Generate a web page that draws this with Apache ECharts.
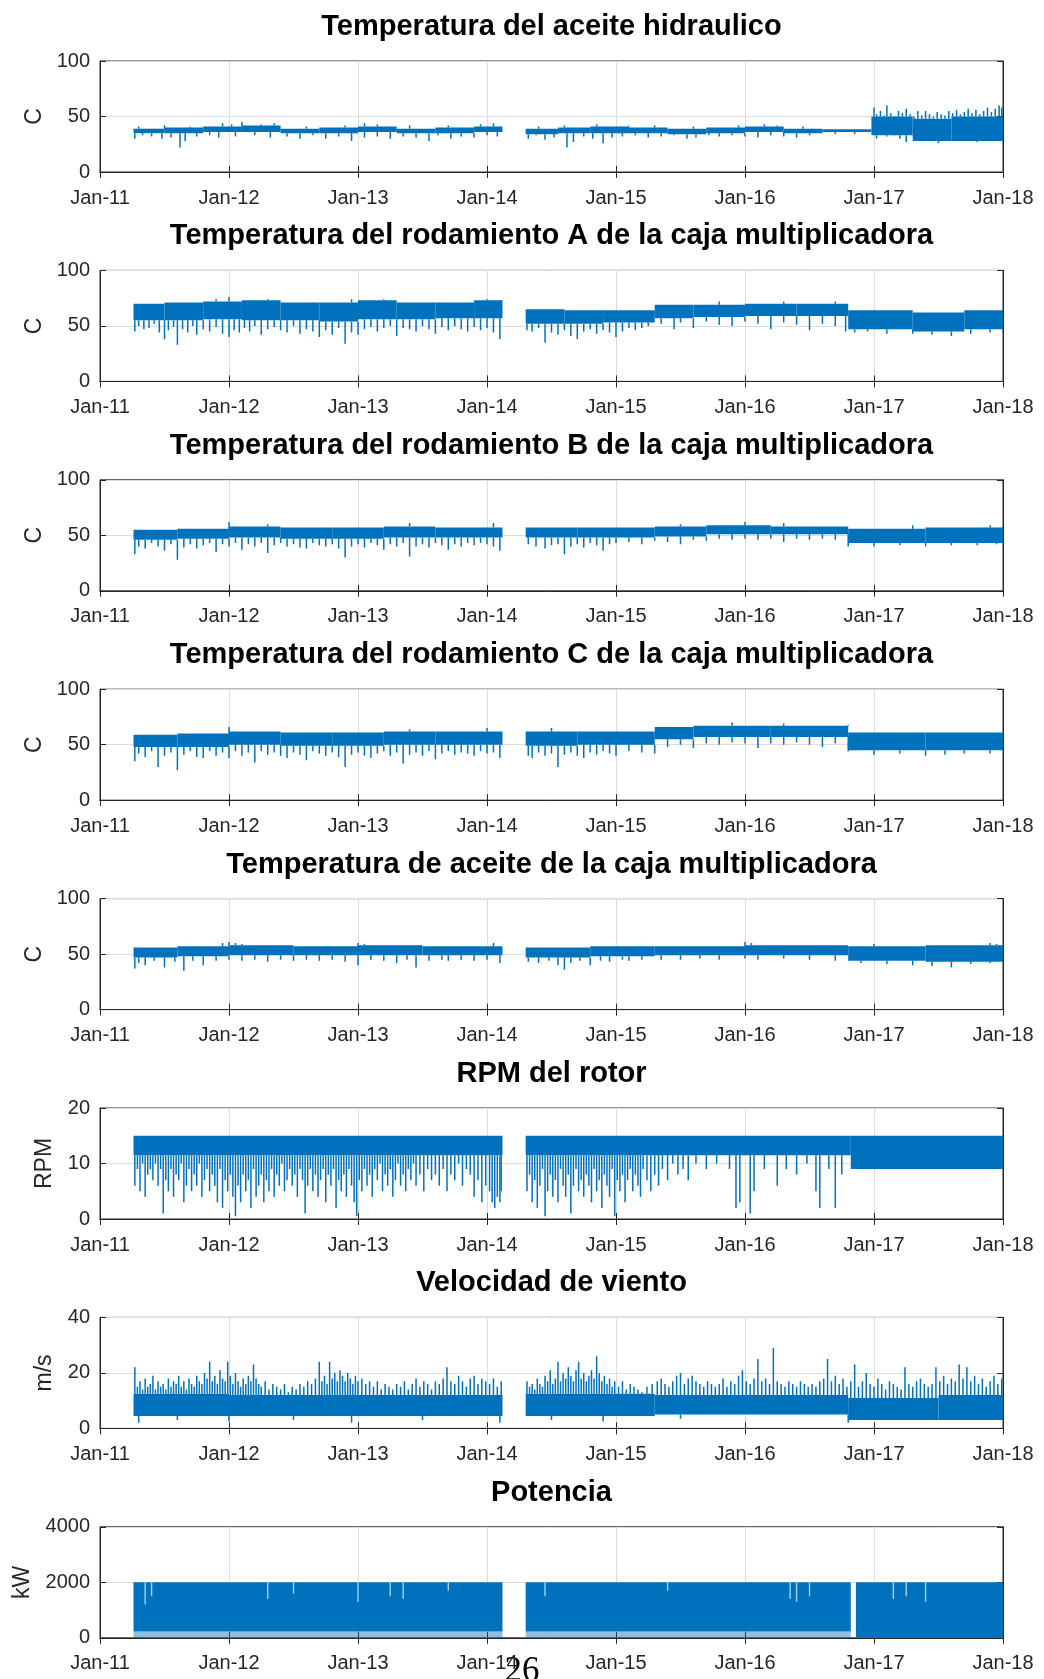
<!DOCTYPE html>
<html><head><meta charset="utf-8">
<script src="https://cdn.jsdelivr.net/npm/echarts@6/dist/echarts.min.js"></script>
<style>html,body{margin:0;padding:0;background:#fff}#c{width:1044px;height:1679px}</style>
</head><body><div id="c"></div>
<script>
// ---- tick labels / axis ----
const xTickYears = [2011, 2012, 2013, 2014, 2015, 2016, 2017, 2018];
const xTickLabels = ['Jan-11', 'Jan-12', 'Jan-13', 'Jan-14', 'Jan-15', 'Jan-16', 'Jan-17', 'Jan-18'];
const titles = [
  'Temperatura del aceite hidraulico',
  'Temperatura del rodamiento A de la caja multiplicadora',
  'Temperatura del rodamiento B de la caja multiplicadora',
  'Temperatura del rodamiento C de la caja multiplicadora',
  'Temperatura de aceite de la caja multiplicadora',
  'RPM del rotor',
  'Velocidad de viento',
  'Potencia'
];
const yNames = ['C', 'C', 'C', 'C', 'C', 'RPM', 'm/s', 'kW'];
const yMax = [100, 100, 100, 100, 100, 20, 40, 4000];
const yInterval = [50, 50, 50, 50, 50, 10, 20, 2000];

// ---- data: dense bands [startYear, endYear, low, high]; spikes [year, tip] ----
const bands1 = [[2011.26,2011.5,35,39],[2011.5,2011.8,35,40],[2011.8,2012.1,36,41],[2012.1,2012.4,36,42],[2012.4,2012.7,35,39],[2012.7,2013.0,35,40],[2013.0,2013.3,36,41],[2013.3,2013.6,35,39],[2013.6,2013.9,35,40],[2013.9,2014.12,36,41],
  [2014.30,2014.55,34,39],[2014.55,2014.8,35,40],[2014.8,2015.1,35,41],[2015.1,2015.4,35,40],[2015.4,2015.7,34,39],[2015.7,2016.0,35,40],[2016.0,2016.3,36,41],[2016.3,2016.6,35,39],[2016.6,2016.98,36,38.5],
  [2016.98,2017.3,33,50],[2017.3,2017.6,28,48],[2017.6,2018.0,28,50]];
const spikes1 = [[2011.27,30],[2011.33,33],[2011.4,32],[2011.48,30],[2011.55,31],[2011.62,22],[2011.66,28],[2011.75,32],[2011.85,33],[2011.92,31],[2012.05,32],[2012.2,33],[2012.32,31],[2012.45,32],[2012.55,30],[2012.65,33],[2012.75,30],[2012.85,32],[2012.95,28],[2013.05,31],[2013.15,32],[2013.25,30],[2013.35,32],[2013.45,31],[2013.55,28],[2013.62,33],[2013.72,30],[2013.8,32],[2013.9,31],[2014.0,33],[2014.08,32],
  [2014.32,30],[2014.38,33],[2014.45,29],[2014.52,31],[2014.62,22],[2014.67,27],[2014.75,32],[2014.82,30],[2014.9,26],[2014.97,31],[2015.05,32],[2015.15,33],[2015.25,31],[2015.35,32],[2015.45,33],[2015.55,30],[2015.62,31],[2015.72,33],[2015.8,32],[2015.9,33],[2016.0,32],[2016.1,31],[2016.2,33],[2016.3,32],[2016.4,31],[2016.5,33],[2016.7,34],[2016.85,34],
  [2011.3,41],[2011.5,42],[2011.7,41],[2011.95,44],[2012.02,43],[2012.1,45],[2012.25,43],[2012.35,44],[2012.6,41],[2012.9,42],[2013.05,44],[2013.15,43],[2013.4,42],[2013.7,42],[2013.95,43],[2014.05,44],[2014.4,41],[2014.6,42],[2014.85,43],[2015.1,42],[2015.3,42],[2015.6,41],[2015.95,42],[2016.15,43],[2016.25,42],[2016.45,41],
  [2017.0,58],[2017.02,52],[2017.05,55],[2017.08,51],[2017.1,60],[2017.13,53],[2017.16,50],[2017.19,55],[2017.22,53],[2017.25,57],[2017.28,52],[2017.31,50],[2017.34,55],[2017.37,51],[2017.4,55],[2017.43,52],[2017.46,50],[2017.49,54],[2017.52,52],[2017.55,51],[2017.58,55],[2017.61,53],[2017.64,56],[2017.67,52],[2017.7,54],[2017.73,57],[2017.76,53],[2017.79,56],[2017.82,52],[2017.85,55],[2017.88,58],[2017.91,54],[2017.94,57],[2017.97,60],[2017.99,58],
  [2017.02,30],[2017.1,32],[2017.2,30],[2017.25,27],[2017.5,26],[2017.8,27]];

const bands2 = [[2011.26,2011.5,55,70],[2011.5,2011.8,55,71],[2011.8,2012.1,56,72],[2012.1,2012.4,55,73],[2012.4,2012.7,55,71],[2012.7,2013.0,54,71],[2013.0,2013.3,56,73],[2013.3,2013.6,56,71],[2013.6,2013.9,57,71],[2013.9,2014.12,57,73],
  [2014.30,2014.6,52,65],[2014.6,2014.9,52,64],[2014.9,2015.3,53,64],[2015.3,2015.6,57,69],[2015.6,2016.0,58,69],[2016.0,2016.4,59,70],[2016.4,2016.8,59,70],[2016.8,2017.3,47,64],[2017.3,2017.7,45,62],[2017.7,2018.0,47,64]];
const spikes2 = [[2011.27,45],[2011.3,50],[2011.34,47],[2011.38,48],[2011.42,52],[2011.46,44],[2011.5,38],[2011.53,46],[2011.57,49],[2011.6,33],[2011.64,47],[2011.68,44],[2011.72,50],[2011.75,42],[2011.8,47],[2011.85,45],[2011.9,49],[2011.95,43],[2012.0,40],[2012.04,46],[2012.08,44],[2012.12,48],[2012.16,45],[2012.2,50],[2012.25,42],[2012.3,47],[2012.35,49],[2012.4,46],[2012.45,44],[2012.5,50],[2012.55,43],[2012.6,47],[2012.65,45],[2012.7,40],[2012.75,46],[2012.8,42],[2012.85,48],[2012.9,34],[2012.95,44],[2013.0,42],[2013.05,47],[2013.1,49],[2013.15,45],[2013.2,48],[2013.25,50],[2013.3,41],[2013.35,48],[2013.4,47],[2013.45,45],[2013.5,50],[2013.55,47],[2013.6,43],[2013.65,49],[2013.7,46],[2013.75,50],[2013.8,47],[2013.85,45],[2013.9,49],[2013.95,46],[2014.0,48],[2014.05,44],[2014.1,38],
  [2014.31,46],[2014.35,45],[2014.4,48],[2014.45,35],[2014.5,44],[2014.55,42],[2014.6,46],[2014.65,41],[2014.7,38],[2014.75,45],[2014.8,47],[2014.85,43],[2014.9,46],[2014.95,44],[2015.0,40],[2015.05,45],[2015.1,48],[2015.15,46],[2015.2,48],[2015.25,50],[2015.35,52],[2015.45,47],[2015.5,53],[2015.6,48],[2015.7,54],[2015.8,51],[2015.9,50],[2016.0,54],[2016.1,52],[2016.2,47],[2016.3,53],[2016.4,51],[2016.5,46],[2016.6,52],[2016.7,50],[2016.78,45],
  [2016.85,44],[2016.95,45],[2017.1,43],[2017.3,43],[2017.45,42],[2017.6,41],[2017.75,43],[2017.9,44],
  [2011.9,74],[2012.0,76],[2012.3,74],[2012.95,74],[2013.2,74],[2014.0,74],[2014.1,73],[2015.8,72],[2016.3,72],[2016.7,72]];

const bands3 = [[2011.26,2011.6,46,55],[2011.6,2012.0,47,56],[2012.0,2012.4,48,58],[2012.4,2012.8,47,57],[2012.8,2013.2,47,57],[2013.2,2013.6,48,58],[2013.6,2014.12,48,57],
  [2014.30,2014.7,48,57],[2014.7,2015.3,48,57],[2015.3,2015.7,49,58],[2015.7,2016.2,51,59],[2016.2,2016.8,51,58],[2016.8,2017.4,43,56],[2017.4,2018.0,43,57]];
const spikes3 = [[2011.27,33],[2011.3,40],[2011.35,38],[2011.4,43],[2011.45,40],[2011.5,36],[2011.55,42],[2011.6,28],[2011.65,39],[2011.7,42],[2011.75,38],[2011.8,41],[2011.85,43],[2011.9,35],[2011.95,42],[2012.0,40],[2012.05,43],[2012.1,37],[2012.15,42],[2012.2,40],[2012.25,43],[2012.3,34],[2012.35,41],[2012.4,43],[2012.45,40],[2012.5,42],[2012.55,39],[2012.6,38],[2012.65,43],[2012.7,41],[2012.75,40],[2012.8,42],[2012.85,38],[2012.9,30],[2012.95,40],[2013.0,42],[2013.05,39],[2013.1,43],[2013.15,41],[2013.2,37],[2013.25,42],[2013.3,40],[2013.35,43],[2013.4,31],[2013.45,40],[2013.5,42],[2013.55,39],[2013.6,43],[2013.65,41],[2013.7,37],[2013.75,42],[2013.8,40],[2013.85,43],[2013.9,41],[2013.95,43],[2014.0,42],[2014.05,40],[2014.1,36],
  [2014.32,42],[2014.38,40],[2014.45,38],[2014.5,41],[2014.55,42],[2014.6,33],[2014.65,40],[2014.7,42],[2014.75,39],[2014.8,43],[2014.85,41],[2014.9,36],[2014.95,42],[2015.0,43],[2015.1,44],[2015.2,42],[2015.3,45],[2015.4,44],[2015.5,42],[2015.6,46],[2015.7,45],[2015.8,47],[2015.9,46],[2016.0,47],[2016.1,46],[2016.2,47],[2016.3,44],[2016.4,47],[2016.5,46],[2016.6,47],[2016.7,46],[2016.8,40],[2017.0,40],[2017.2,41],[2017.4,40],[2017.6,41],[2017.8,41],[2017.95,42],
  [2012.0,62],[2012.3,60],[2013.4,61],[2014.05,61],[2015.5,60],[2016.0,62],[2016.3,61],[2017.3,59],[2017.9,59]];

const bands4 = [[2011.26,2011.6,48,59],[2011.6,2012.0,48,60],[2012.0,2012.4,50,62],[2012.4,2012.8,49,61],[2012.8,2013.2,49,61],[2013.2,2013.6,50,62],[2013.6,2014.12,50,62],
  [2014.30,2014.7,49,62],[2014.7,2015.3,50,62],[2015.3,2015.6,55,66],[2015.6,2016.2,57,67],[2016.2,2016.8,57,67],[2016.8,2017.4,45,61],[2017.4,2018.0,45,61]];
const spikes4 = [[2011.27,35],[2011.3,42],[2011.35,39],[2011.4,44],[2011.45,30],[2011.5,40],[2011.55,43],[2011.6,27],[2011.65,41],[2011.7,44],[2011.75,39],[2011.8,38],[2011.85,44],[2011.9,40],[2011.95,43],[2012.0,38],[2012.05,44],[2012.1,40],[2012.15,43],[2012.2,34],[2012.25,44],[2012.3,41],[2012.35,43],[2012.4,40],[2012.45,38],[2012.5,43],[2012.55,41],[2012.6,36],[2012.65,44],[2012.7,42],[2012.75,40],[2012.8,43],[2012.85,39],[2012.9,30],[2012.95,41],[2013.0,43],[2013.05,40],[2013.1,38],[2013.15,42],[2013.2,44],[2013.25,40],[2013.3,43],[2013.35,33],[2013.4,41],[2013.45,43],[2013.5,40],[2013.55,44],[2013.6,37],[2013.65,42],[2013.7,44],[2013.75,41],[2013.8,43],[2013.85,42],[2013.9,40],[2013.95,44],[2014.0,42],[2014.05,43],[2014.1,38],
  [2014.32,40],[2014.35,38],[2014.4,43],[2014.45,40],[2014.5,42],[2014.55,30],[2014.6,41],[2014.65,43],[2014.7,40],[2014.75,38],[2014.8,43],[2014.85,41],[2014.9,44],[2014.95,42],[2015.0,40],[2015.1,44],[2015.2,43],[2015.3,42],[2015.4,48],[2015.5,50],[2015.6,47],[2015.7,51],[2015.8,50],[2015.9,52],[2016.0,51],[2016.1,47],[2016.2,51],[2016.3,50],[2016.4,52],[2016.5,50],[2016.6,48],[2016.7,51],[2016.8,44],[2017.0,41],[2017.2,42],[2017.4,40],[2017.55,41],[2017.7,42],[2017.9,42],
  [2012.0,66],[2013.4,64],[2014.0,65],[2014.5,65],[2015.9,70],[2016.3,69],[2016.8,68]];

const bands5 = [[2011.26,2011.6,47,56],[2011.6,2012.0,48,57],[2012.0,2012.5,49,58],[2012.5,2013.0,49,57],[2013.0,2013.5,49,58],[2013.5,2014.12,49,57],[2014.30,2014.8,47,56],[2014.8,2015.3,48,57],[2015.3,2016.0,49,57],[2016.0,2016.8,49,58],[2016.8,2017.4,44,57],[2017.4,2018.0,43,58]];
const spikes5 = [[2011.27,37],[2011.3,42],[2011.35,40],[2011.42,44],[2011.5,38],[2011.58,43],[2011.65,35],[2011.72,44],[2011.8,40],[2011.9,44],[2012.0,45],[2012.1,44],[2012.2,45],[2012.3,43],[2012.4,45],[2012.5,44],[2012.6,45],[2012.7,44],[2012.8,45],[2012.9,43],[2013.0,40],[2013.1,45],[2013.2,44],[2013.3,42],[2013.38,45],[2013.45,38],[2013.55,44],[2013.65,45],[2013.7,44],[2013.8,45],[2013.9,44],[2014.0,45],[2014.1,42],
  [2014.32,43],[2014.4,42],[2014.48,44],[2014.55,40],[2014.6,36],[2014.65,42],[2014.72,44],[2014.8,40],[2014.88,44],[2014.95,43],[2015.05,45],[2015.1,44],[2015.2,45],[2015.35,45],[2015.5,45],[2015.65,46],[2015.8,45],[2016.0,46],[2016.1,45],[2016.3,46],[2016.5,45],[2016.7,44],[2016.9,42],[2017.1,41],[2017.3,40],[2017.45,39],[2017.6,38],[2017.75,41],[2017.9,42],
  [2011.95,60],[2012.0,61],[2012.05,60],[2012.1,59],[2013.0,60],[2013.05,59],[2014.05,60],[2016.0,61],[2016.05,60],[2017.0,59],[2017.9,60],[2017.95,59]];

const bands6 = [[2011.26,2014.12,11.5,15],[2014.30,2016.82,11.5,15],[2016.82,2018.0,9,15]];
const spikes6 = [[2011.27,6],[2011.29,9],[2011.31,5],[2011.33,10],[2011.35,4],[2011.37,8],[2011.39,9],[2011.41,7],[2011.43,10],[2011.45,6],[2011.47,9],[2011.49,1],[2011.51,7],[2011.53,5],[2011.55,9],[2011.57,4],[2011.59,8],[2011.61,7],[2011.63,10],[2011.65,3],[2011.67,6],[2011.69,9],[2011.71,5],[2011.73,8],[2011.75,6],[2011.77,10],[2011.79,4],[2011.81,7],[2011.83,9],[2011.85,5],[2011.87,8],[2011.89,6],[2011.91,3],[2011.93,9],[2011.95,2],[2011.97,7],[2011.99,5],
  [2012.01,8],[2012.03,4],[2012.05,0.5],[2012.07,6],[2012.09,3],[2012.11,8],[2012.13,5],[2012.15,7],[2012.17,2],[2012.19,9],[2012.21,4],[2012.23,6],[2012.25,8],[2012.27,3],[2012.29,7],[2012.31,5],[2012.33,9],[2012.35,4],[2012.37,8],[2012.39,6],[2012.41,10],[2012.43,5],[2012.45,7],[2012.47,9],[2012.49,6],[2012.51,8],[2012.53,4],[2012.55,9],[2012.57,7],[2012.59,1],[2012.61,6],[2012.63,9],[2012.65,5],[2012.67,8],[2012.69,4],[2012.71,7],[2012.73,9],[2012.75,3],[2012.77,8],[2012.79,6],[2012.81,9],[2012.83,2],[2012.85,7],[2012.87,5],[2012.89,8],[2012.91,4],[2012.93,9],[2012.95,6],[2012.97,3],[2012.99,0.5],
  [2013.01,7],[2013.03,5],[2013.05,9],[2013.07,6],[2013.09,8],[2013.11,4],[2013.13,9],[2013.15,7],[2013.17,10],[2013.19,5],[2013.21,8],[2013.23,6],[2013.25,9],[2013.27,4],[2013.29,7],[2013.31,10],[2013.33,6],[2013.35,8],[2013.37,5],[2013.39,9],[2013.41,7],[2013.43,10],[2013.45,6],[2013.48,8],[2013.51,5],[2013.54,9],[2013.57,7],[2013.6,8],[2013.63,6],[2013.66,9],[2013.69,5],[2013.72,8],[2013.75,7],[2013.78,10],[2013.81,6],[2013.84,9],[2013.87,8],[2013.9,4],[2013.93,7],[2013.96,3],[2013.99,6],[2014.02,5],[2014.04,3],[2014.06,2],[2014.08,4],[2014.1,3],[2014.11,5],
  [2014.31,5],[2014.33,8],[2014.35,3],[2014.37,7],[2014.39,2],[2014.41,6],[2014.43,9],[2014.45,0.5],[2014.47,5],[2014.49,8],[2014.51,4],[2014.53,7],[2014.55,3],[2014.57,9],[2014.59,6],[2014.61,4],[2014.63,8],[2014.65,1],[2014.67,6],[2014.69,9],[2014.71,5],[2014.73,7],[2014.75,4],[2014.77,8],[2014.79,6],[2014.81,3],[2014.83,9],[2014.85,5],[2014.87,7],[2014.89,2],[2014.91,8],[2014.93,6],[2014.95,4],[2014.97,9],[2014.99,0.5],
  [2015.01,7],[2015.03,5],[2015.05,8],[2015.07,3],[2015.09,7],[2015.11,9],[2015.13,5],[2015.15,8],[2015.17,6],[2015.19,4],[2015.21,9],[2015.24,7],[2015.27,5],[2015.3,8],[2015.33,6],[2015.36,9],[2015.4,7],[2015.44,10],[2015.48,8],[2015.52,9],[2015.56,7],[2015.62,10],[2015.7,9],[2015.78,10],[2015.88,9],[2015.93,2],[2015.96,3],[2016.04,1],[2016.07,5],[2016.15,9],[2016.25,6],[2016.32,9],[2016.4,8],[2016.48,10],[2016.55,5],[2016.58,2],[2016.65,9],[2016.7,2],[2016.75,8]];

const bands7 = [[2011.26,2012.0,4.5,12.5],[2012.0,2013.0,4.5,12],[2013.0,2014.12,4.5,12],[2014.30,2015.3,4.5,12.5],[2015.3,2016.8,5,12],[2016.8,2017.5,3,11],[2017.5,2018.0,3,12]];
const spikes7 = [[2011.27,22],[2011.29,15],[2011.31,17],[2011.33,14],[2011.35,18],[2011.37,15],[2011.39,16],[2011.41,19],[2011.43,14],[2011.45,17],[2011.47,15],[2011.49,16],[2011.51,14],[2011.53,18],[2011.55,15],[2011.57,17],[2011.59,16],[2011.61,19],[2011.63,15],[2011.65,17],[2011.67,14],[2011.69,18],[2011.71,16],[2011.73,15],[2011.75,19],[2011.77,17],[2011.79,16],[2011.81,20],[2011.83,18],[2011.85,24],[2011.87,17],[2011.89,19],[2011.91,16],[2011.93,21],[2011.95,18],[2011.97,17],[2011.99,24],
  [2012.01,19],[2012.03,16],[2012.05,20],[2012.07,17],[2012.09,15],[2012.11,18],[2012.13,16],[2012.15,19],[2012.17,17],[2012.19,23],[2012.21,18],[2012.23,16],[2012.25,15],[2012.28,17],[2012.31,14],[2012.34,16],[2012.37,15],[2012.4,14],[2012.43,16],[2012.46,13],[2012.49,15],[2012.52,14],[2012.55,16],[2012.58,15],[2012.61,17],[2012.64,16],[2012.67,18],[2012.7,24],[2012.72,17],[2012.74,19],[2012.76,16],[2012.78,24],[2012.8,18],[2012.82,20],[2012.84,17],[2012.86,21],[2012.88,19],[2012.9,17],[2012.92,20],[2012.94,18],[2012.96,16],[2012.98,19],
  [2013.0,17],[2013.03,18],[2013.06,16],[2013.09,17],[2013.12,15],[2013.15,17],[2013.18,14],[2013.21,16],[2013.24,15],[2013.27,14],[2013.3,16],[2013.33,15],[2013.36,17],[2013.39,14],[2013.42,16],[2013.45,18],[2013.48,15],[2013.51,17],[2013.54,16],[2013.57,14],[2013.6,17],[2013.63,16],[2013.66,18],[2013.69,22],[2013.72,17],[2013.75,16],[2013.78,19],[2013.81,17],[2013.84,15],[2013.87,18],[2013.9,19],[2013.93,16],[2013.96,18],[2013.99,17],[2014.02,16],[2014.05,18],[2014.08,15],[2014.11,17],
  [2014.31,17],[2014.33,15],[2014.35,16],[2014.37,14],[2014.39,18],[2014.41,16],[2014.43,15],[2014.45,19],[2014.47,17],[2014.49,21],[2014.51,16],[2014.53,18],[2014.55,24],[2014.57,17],[2014.59,20],[2014.61,18],[2014.63,22],[2014.65,19],[2014.67,17],[2014.69,21],[2014.71,24],[2014.73,18],[2014.75,20],[2014.77,17],[2014.79,19],[2014.81,21],[2014.83,18],[2014.85,26],[2014.87,20],[2014.89,17],[2014.91,19],[2014.93,16],[2014.95,18],[2014.97,15],[2014.99,17],
  [2015.02,15],[2015.05,17],[2015.08,14],[2015.11,16],[2015.14,15],[2015.17,14],[2015.2,13],[2015.24,15],[2015.28,16],[2015.32,17],[2015.35,18],[2015.38,16],[2015.41,15],[2015.44,17],[2015.47,19],[2015.5,20],[2015.53,16],[2015.56,18],[2015.59,19],[2015.62,17],[2015.65,16],[2015.68,15],[2015.71,17],[2015.74,16],[2015.77,15],[2015.8,16],[2015.83,18],[2015.86,15],[2015.89,17],[2015.92,16],[2015.95,19],[2015.98,21],
  [2016.01,17],[2016.04,16],[2016.07,18],[2016.1,25],[2016.13,17],[2016.16,18],[2016.19,16],[2016.22,29],[2016.25,17],[2016.28,16],[2016.31,15],[2016.34,17],[2016.37,16],[2016.4,15],[2016.43,17],[2016.46,16],[2016.49,15],[2016.52,16],[2016.55,15],[2016.58,17],[2016.61,18],[2016.64,25],[2016.67,17],[2016.7,19],[2016.73,16],[2016.76,18],[2016.79,15],
  [2016.82,17],[2016.85,23],[2016.88,15],[2016.91,17],[2016.94,20],[2016.97,16],[2017.0,15],[2017.03,18],[2017.06,16],[2017.09,14],[2017.12,17],[2017.15,16],[2017.18,15],[2017.21,14],[2017.24,22],[2017.27,16],[2017.3,15],[2017.33,17],[2017.36,18],[2017.39,16],[2017.42,15],[2017.45,16],[2017.48,22],[2017.51,17],[2017.54,19],[2017.57,16],[2017.6,18],[2017.63,17],[2017.66,23],[2017.69,18],[2017.72,22],[2017.75,17],[2017.78,19],[2017.81,16],[2017.84,18],[2017.87,15],[2017.9,17],[2017.93,19],[2017.96,16],[2017.99,18],
  [2011.3,2],[2011.6,3],[2012.0,2.5],[2012.5,3],[2012.95,2],[2013.5,3],[2014.1,2],[2014.5,3],[2014.9,2.5],[2015.5,3.5],[2016.8,2]];

const bands8 = [[2011.26,2014.12,230,2000],[2014.30,2016.82,230,2000],[2016.86,2018.0,0,2000]];
const lowStrip8 = [[2011.26,2014.12,0,230],[2014.30,2016.82,0,230]];
const notches8 = [[2011.35,1200],[2011.4,1500],[2012.3,1400],[2012.5,1600],[2013.0,1300],[2013.25,1500],[2013.35,1400],[2013.7,1700],[2014.45,1500],[2015.4,1700],[2016.35,1400],[2016.4,1300],[2016.5,1500],[2017.15,1400],[2017.25,1500],[2017.4,1300]];

const allBands = [bands1, bands2, bands3, bands4, bands5, bands6, bands7, bands8];
const allSpikes = [spikes1, spikes2, spikes3, spikes4, spikes5, spikes6, spikes7, []];

// ---- styling / layout ----
const BLUE = '#0072BD';
const FONT = 'Liberation Sans, Arial, Helvetica, sans-serif';
const TXT = '#262626';
const L = 100, R = 41, TOP0 = 61, STEP = 209.4, H = 111;
const nameGaps = [49, 49, 49, 49, 49, 44, 44, 61];

function spikeBase(bands, x, tip) {
  let b = bands[0], best = 1e9;
  bands.forEach(s => {
    const d = x < s[0] ? s[0] - x : (x > s[1] ? x - s[1] : 0);
    if (d < best) { best = d; b = s; }
  });
  return tip < b[2] ? b[2] : (tip > b[3] ? b[3] : b[2]);
}
function rectItem(color, opacity) {
  return function (params, api) {
    const p0 = api.coord([api.value(0), api.value(3)]);
    const p1 = api.coord([api.value(1), api.value(2)]);
    return { type: 'rect', shape: { x: p0[0], y: p0[1], width: p1[0] - p0[0], height: p1[1] - p0[1] },
      style: { fill: color, opacity: opacity } };
  };
}
function lineItem(color, width) {
  return function (params, api) {
    const p0 = api.coord([api.value(0), api.value(1)]);
    const p1 = api.coord([api.value(0), api.value(2)]);
    return { type: 'line', shape: { x1: p0[0], y1: p0[1], x2: p1[0], y2: p1[1] },
      style: { stroke: color, lineWidth: width } };
  };
}

const grids = [], xAxes = [], yAxes = [], series = [], graphics = [];
for (let i = 0; i < 8; i++) {
  const top = TOP0 + i * STEP;
  grids.push({ left: L, right: R, top: top, height: H, show: true, borderColor: TXT, borderWidth: 1, backgroundColor: '#fff' });
  const xBase = { gridIndex: i, type: 'value', min: xTickYears[0], max: xTickYears[xTickYears.length - 1], interval: 1 };
  xAxes.push(Object.assign({}, xBase, {
    position: 'bottom',
    axisLine: { show: true, lineStyle: { color: TXT, width: 1 } },
    axisTick: { show: true, inside: true, length: 6, lineStyle: { color: TXT } },
    axisLabel: { color: TXT, fontSize: 20, fontFamily: FONT, margin: 16,
      formatter: v => xTickLabels[xTickYears.indexOf(Math.round(v))] || '' },
    splitLine: { show: true, lineStyle: { color: '#dcdcdc', width: 1 } }
  }));
  xAxes.push(Object.assign({}, xBase, {
    position: 'top',
    axisLine: { show: true, lineStyle: { color: TXT, width: 1 } },
    axisTick: { show: true, inside: true, length: 6, lineStyle: { color: TXT } },
    axisLabel: { show: false }, splitLine: { show: false }
  }));
  const yBase = { gridIndex: i, type: 'value', min: 0, max: yMax[i], interval: yInterval[i] };
  yAxes.push(Object.assign({}, yBase, {
    position: 'left',
    name: yNames[i], nameLocation: 'middle', nameRotate: 90, nameGap: nameGaps[i],
    nameTextStyle: { color: TXT, fontSize: 23, fontFamily: FONT },
    axisLine: { show: true, lineStyle: { color: TXT, width: 1 } },
    axisTick: { show: true, inside: true, length: 6, lineStyle: { color: TXT } },
    axisLabel: { color: TXT, fontSize: 20, fontFamily: FONT, margin: 10, formatter: v => String(v) },
    splitLine: { show: true, lineStyle: { color: '#dcdcdc', width: 1 } }
  }));
  yAxes.push(Object.assign({}, yBase, {
    position: 'right',
    axisLine: { show: true, lineStyle: { color: TXT, width: 1 } },
    axisTick: { show: true, inside: true, length: 6, lineStyle: { color: TXT } },
    axisLabel: { show: false }, splitLine: { show: false }
  }));
  const xi = 2 * i, yi = 2 * i;
  series.push({ type: 'custom', xAxisIndex: xi, yAxisIndex: yi, renderItem: rectItem(BLUE, 1),
    encode: { x: [0, 1], y: [2, 3] }, data: allBands[i], clip: true, silent: true, z: 3 });
  const sp = allSpikes[i].map(s => [s[0], spikeBase(allBands[i], s[0], s[1]), s[1]]);
  series.push({ type: 'custom', xAxisIndex: xi, yAxisIndex: yi, renderItem: lineItem(BLUE, 1.5),
    encode: { x: 0, y: [1, 2] }, data: sp, clip: true, silent: true, z: 3 });
  if (i === 7) {
    series.push({ type: 'custom', xAxisIndex: xi, yAxisIndex: yi, renderItem: rectItem(BLUE, 0.45),
      encode: { x: [0, 1], y: [2, 3] }, data: lowStrip8, clip: true, silent: true, z: 3 });
    const nt = notches8.map(s => [s[0], 2000, s[1]]);
    series.push({ type: 'custom', xAxisIndex: xi, yAxisIndex: yi, renderItem: lineItem('#9fd3f5', 1.4),
      encode: { x: 0, y: [1, 2] }, data: nt, clip: true, silent: true, z: 4 });
  }
  graphics.push({ type: 'text', x: L + (1044 - L - R) / 2, y: 27 + i * STEP,
    style: { text: titles[i], fill: '#000', font: 'bold 29px ' + FONT, textAlign: 'center', textVerticalAlign: 'middle' } });
}
graphics.push({ type: 'text', x: 522, y: 1654,
  style: { text: '26', fill: '#000', font: '35px Liberation Serif, DejaVu Serif, serif', textAlign: 'center', textVerticalAlign: 'top' } });

const chart = echarts.init(document.getElementById('c'), null, { renderer: 'canvas' });
chart.setOption({
  animation: false,
  backgroundColor: '#fff',
  grid: grids, xAxis: xAxes, yAxis: yAxes, series: series, graphic: graphics
});
</script></body></html>
